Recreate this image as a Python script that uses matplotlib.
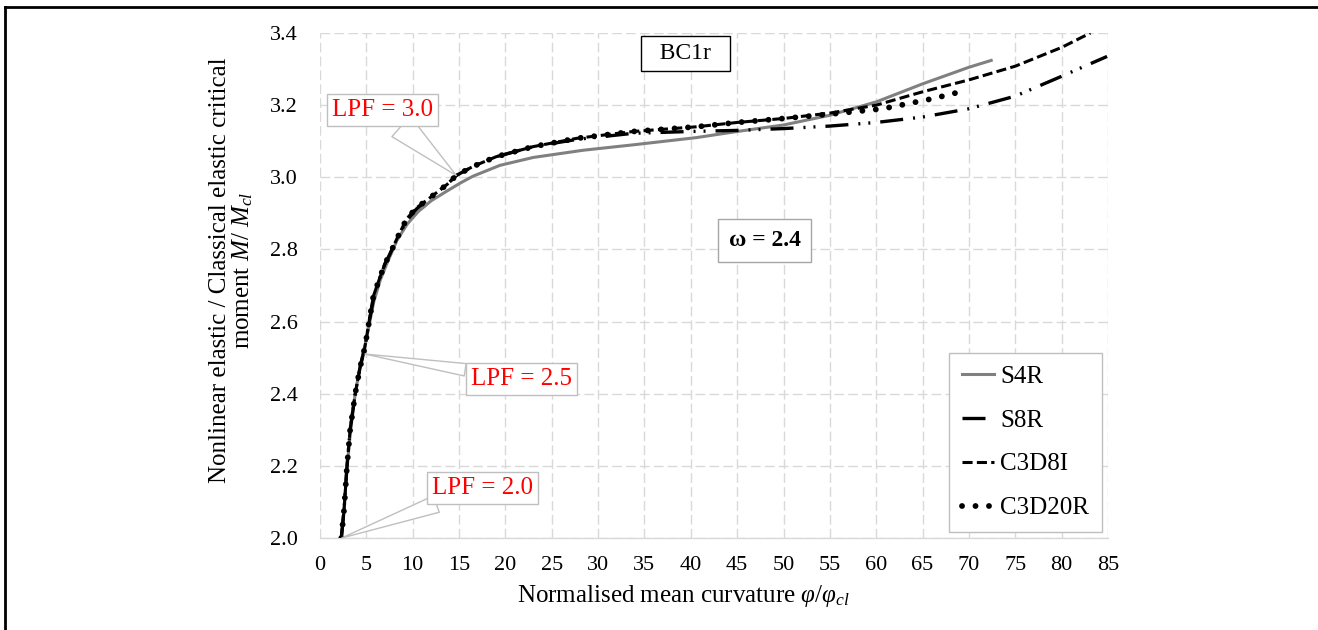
import matplotlib
matplotlib.use("Agg")
import matplotlib.pyplot as plt
from matplotlib.lines import Line2D

plt.rcParams['font.family'] = ['Liberation Serif', 'DejaVu Serif']
plt.rcParams['mathtext.fontset'] = 'custom'
plt.rcParams['mathtext.rm'] = 'Liberation Serif'
plt.rcParams['mathtext.it'] = 'Liberation Serif:italic'

# data
s4r_x = [2.3, 2.6, 2.9, 3.3, 3.8, 4.35, 4.9, 5.3, 5.8, 6.5, 7.2, 8.3, 9.4, 10.6, 12.0,
         13.7, 15.2, 16.5, 19.4, 23.0, 28.4, 33.8, 40.6, 45, 50, 55, 60, 65, 70, 72.4]
s4r_y = [2.0, 2.08, 2.19, 2.3, 2.4, 2.48, 2.54, 2.59, 2.655, 2.715, 2.76, 2.825, 2.87, 2.905, 2.935,
         2.962, 2.985, 3.003, 3.033, 3.055, 3.075, 3.09, 3.11, 3.127, 3.145, 3.172, 3.209, 3.259, 3.305, 3.324]

s8r_x = [2.3, 2.6, 2.9, 3.25, 3.8, 4.3, 4.85, 5.3, 5.75, 6.5, 7.0, 7.5, 8.3, 9.35, 10.4, 11.7,
         13.7, 14.7, 16.5, 19.0, 23.0, 27.7, 33.8, 40, 45, 50, 55, 60, 65, 70, 75, 80, 84.9]
s8r_y = [2.0, 2.08, 2.195, 2.3, 2.4, 2.47, 2.53, 2.6, 2.66, 2.725, 2.76, 2.785, 2.83, 2.88, 2.912, 2.94,
         2.98, 3.005, 3.03, 3.057, 3.085, 3.105, 3.122, 3.127, 3.13, 3.135, 3.142, 3.152, 3.167, 3.19,
         3.225, 3.28, 3.335]

c3d8i_x = [2.3, 2.6, 2.9, 3.25, 3.8, 4.3, 4.85, 5.3, 5.75, 6.5, 7.0, 7.5, 8.3, 9.35, 10.4, 11.7,
           13.7, 14.7, 16.5, 19.0, 23.0, 27.7, 33.8, 40.6, 45, 50, 55, 60, 65, 70, 75, 80, 83.1]
c3d8i_y = [2.0, 2.08, 2.195, 2.3, 2.4, 2.47, 2.53, 2.6, 2.67, 2.725, 2.76, 2.785, 2.83, 2.885, 2.915, 2.94,
           2.98, 3.005, 3.03, 3.057, 3.085, 3.108, 3.127, 3.14, 3.152, 3.163, 3.178, 3.2, 3.237, 3.27,
           3.308, 3.36, 3.4]

c3d20r_x = [2.3, 2.6, 2.9, 3.25, 3.8, 4.3, 4.85, 5.3, 5.75, 6.5, 7.0, 7.5, 8.3, 9.35, 10.4, 11.7,
            13.7, 14.7, 16.5, 19.0, 23.0, 27.7, 33.8, 40.6, 45, 50, 55, 60.7, 66.1, 69.4]
c3d20r_y = [2.0, 2.08, 2.195, 2.3, 2.4, 2.47, 2.53, 2.6, 2.67, 2.725, 2.76, 2.785, 2.83, 2.885, 2.915, 2.94,
            2.98, 3.005, 3.03, 3.057, 3.085, 3.108, 3.127, 3.14, 3.152, 3.163, 3.175, 3.19, 3.218, 3.239]

x_ticks = list(range(0, 90, 5))
y_ticks = [2.0, 2.2, 2.4, 2.6, 2.8, 3.0, 3.2, 3.4]

# LPF callouts: label, point on curve, label position
lpf_labels = ["LPF = 3.0", "LPF = 2.5", "LPF = 2.0"]
lpf_points = [(14.7, 3.005), (4.85, 2.51), (2.34, 2.0)]
lpf_text_pos = [(6.74, 3.187), (21.7, 2.442), (17.5, 2.14)]
lpf_tail = [1.1, 0.5, 0.7]

fig = plt.figure(figsize=(13.18, 6.30), dpi=100)
ax = fig.add_axes([320 / 1318, 1 - 538 / 630, (1108 - 320) / 1318, (538 - 33) / 630])

ax.plot(s4r_x, s4r_y, color='#808080', lw=2.2, label='S4R', zorder=3)
ax.plot(s8r_x, s8r_y, color='black', lw=2.4, linestyle=(0, (6.9, 3, 0.6, 2.4, 0.6, 3)),
        dash_capstyle='butt', label='S8R', zorder=4)
ax.plot(c3d8i_x, c3d8i_y, color='black', lw=2.2, linestyle=(0, (3.3, 1.4)),
        dash_capstyle='butt', label='C3D8I', zorder=5)
ax.plot(c3d20r_x, c3d20r_y, color='black', lw=4.2, linestyle=(0, (0.01, 2.3)),
        dash_capstyle='round', label='C3D20R', zorder=6)

ax.set_xlim(0, 85)
ax.set_ylim(2.0, 3.4)
ax.set_xticks(x_ticks)
ax.set_yticks(y_ticks)
ax.set_yticklabels([f"{v:.1f}" for v in y_ticks])
ax.tick_params(axis='x', length=0, pad=13, labelsize=16)
ax.tick_params(axis='y', length=0, pad=16, labelsize=16)
ax.grid(True, color='#d9d9d9', lw=1.0, linestyle=(0, (7, 3)))
ax.set_axisbelow(True)
for side in ['top', 'right', 'left']:
    ax.spines[side].set_visible(False)
ax.spines['bottom'].set_color('#d9d9d9')
ax.spines['bottom'].set_linewidth(1.0)

for lab, pt, pos, tw in zip(lpf_labels, lpf_points, lpf_text_pos, lpf_tail):
    ax.annotate(lab, xy=pt, xytext=pos, ha='center', va='center', fontsize=18, color='red',
                bbox=dict(boxstyle='square,pad=0.2', fc='white', ec='#bfbfbf', lw=1),
                arrowprops=dict(arrowstyle=f'wedge,tail_width={tw}', fc='white', ec='#bfbfbf',
                                lw=1, shrinkA=0, shrinkB=0),
                zorder=8)

ax.text(39.43, 3.343, "  BC1r  ", ha='center', va='center', fontsize=17,
        bbox=dict(boxstyle='square,pad=0.3', fc='white', ec='black', lw=1), zorder=8)
ax.text(47.95, 2.825, "ω = 2.4", ha='center', va='center', fontsize=17, fontweight='bold',
        bbox=dict(boxstyle='square,pad=0.45', fc='white', ec='#a6a6a6', lw=1), zorder=8)

leg = ax.legend(loc='lower right', bbox_to_anchor=(1.0, 0.0), fontsize=18, frameon=True,
                fancybox=False, framealpha=1, edgecolor='#bfbfbf', handlelength=1.3,
                handletextpad=0.25, labelspacing=0.85, borderpad=0.5, borderaxespad=0.25)
leg.get_frame().set_linewidth(1.0)

fig.text(683 / 1318, 1 - 596 / 630, r"Normalised mean curvature $\varphi/\varphi_{cl}$",
         ha='center', va='center', fontsize=18)
fig.text(232 / 1318, 1 - 270 / 630,
         "Nonlinear elastic / Classical elastic critical\n" + r"moment $M$/ $M_{cl}$",
         ha='center', va='center', rotation=90, fontsize=18, multialignment='center',
         linespacing=1.0)

# outer frame of the original figure
fig.add_artist(Line2D([5 / 1318, 1], [1 - 6.5 / 630] * 2, transform=fig.transFigure,
                      color='black', lw=2))
fig.add_artist(Line2D([5 / 1318] * 2, [0, 1 - 6.5 / 630], transform=fig.transFigure,
                      color='black', lw=2))

fig.savefig("out.png", dpi=100)
